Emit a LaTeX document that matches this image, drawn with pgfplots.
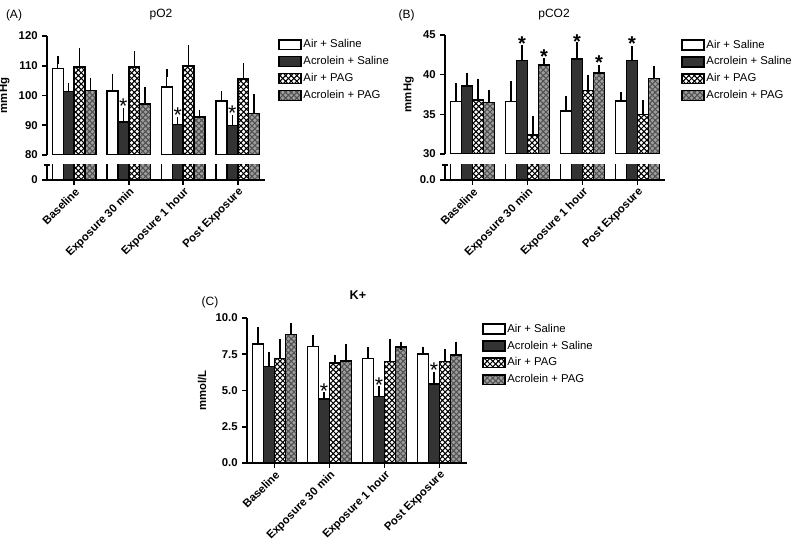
\documentclass[border=0pt]{standalone}
\usepackage{fontspec}
\setmainfont{Liberation Sans}
\usepackage{pgfplots}
\usepackage{pgfplotstable}
\pgfplotsset{compat=1.18}
\usetikzlibrary{patterns}

\pgfdeclarepatternformonly{xhatch}{\pgfqpoint{-1pt}{-1pt}}{\pgfqpoint{5.2pt}{5.2pt}}{\pgfqpoint{4.2pt}{4.2pt}}{%
  \pgfsetlinewidth{0.75pt}%
  \pgfpathmoveto{\pgfqpoint{-0.5pt}{-0.5pt}}\pgfpathlineto{\pgfqpoint{4.7pt}{4.7pt}}%
  \pgfpathmoveto{\pgfqpoint{-0.5pt}{4.7pt}}\pgfpathlineto{\pgfqpoint{4.7pt}{-0.5pt}}%
  \pgfusepath{stroke}}

\newcommand\tf{\fontsize{8.5}{10}\selectfont}

\pgfplotstableread{
g w we b be c ce p pe
0 109.0 2.9 101.4 1.6 109.5 5.0 101.6 3.0
1 101.5 4.5 91.1 3.4 109.6 4.0 97.1 4.3
2 102.8 4.6 90.2 1.2 110.0 5.7 92.7 1.2
3 98.1 2.1 89.9 2.3 105.6 4.0 94.0 5.0
}\Atbl
\pgfplotstableread{
g w we b be c ce p pe
0 36.6 1.8 38.6 1.1 36.8 2.2 36.5 1.0
1 36.6 2.1 41.8 1.4 32.4 1.9 41.2 0.4
2 35.4 1.4 42.0 1.6 38.0 1.4 40.2 0.5
3 36.7 0.6 41.8 1.3 35.0 1.3 39.5 1.1
}\Btbl
\pgfplotstableread{
g w we b be c ce p pe
0 8.20 0.90 6.65 0.75 7.20 1.10 8.85 0.50
1 8.05 0.50 4.40 0.20 6.90 0.30 7.05 0.85
2 7.20 0.50 4.60 0.40 7.00 1.30 8.00 0.10
3 7.50 0.25 5.45 0.55 7.00 0.60 7.45 0.65
}\Ctbl
\pgfplotstableread{
x y
0.9 97.9
1.9 94.9
2.9 95.7
}\Astar
\pgfplotstableread{
x y
0.9 44.4
1.3 42.8
1.9 44.7
2.3 42.0
2.9 44.5
}\Bstar
\pgfplotstableread{
x y
0.9 5.3
1.9 5.7
2.9 6.7
}\Cstar

\pgfplotsset{
  sW/.style={draw=black, line width=1.15pt, fill=white},
  sB/.style={draw=black, line width=1.15pt, fill=black!80},
  sC/.style={draw=black, line width=1.15pt, fill=white, postaction={pattern=xhatch, pattern color=black}},
  sP/.style={draw=black, line width=1.15pt, fill=black!38, postaction={pattern=xhatch, pattern color=black!68}},
  errb/.style={error bars/.cd, y dir=plus, y explicit, error mark=-,
    error bar style={line width=0.9pt, black},
    error mark options={line width=1pt, mark size=3pt, black}},
  base/.style={scale only axis, anchor=south west, xmin=-0.5, xmax=3.5,
    bar width=0.2,
    tick align=outside, major tick length=3.5pt,
    axis line style={line width=1.15pt},
    tick style={line width=1.15pt, black},
    ticklabel style={font=\bfseries\tf},
    label style={font=\bfseries\tf},
    /pgf/number format/assume math mode=true,
    legend image code/.code={\draw[##1] (0pt,-3.7pt) rectangle (16.5pt,3.7pt);},
    legend cell align=left,
    legend style={draw=none, fill=none, font=\tf, inner sep=0pt, row sep=2.6pt,
      nodes={inner sep=1.2pt}}},
  cats/.style={xtick={0,1,2,3},
    xticklabels={Baseline, Exposure 30 min, Exposure 1 hour, Post Exposure},
    xticklabel style={rotate=45, anchor=north east, inner sep=1pt}},
  stars/.style={draw=none, mark=none, forget plot, nodes near coords={*},
    every node near coord/.style={anchor=center, inner sep=0pt, yshift=-3.4pt, font=\fontsize{16}{16}\selectfont}},
  starsb/.style={draw=none, mark=none, forget plot, nodes near coords={*},
    every node near coord/.style={anchor=center, inner sep=0pt, yshift=-3.2pt, font=\bfseries\fontsize{15}{15}\selectfont}},
}

\newcommand\fourbars[1]{%
  \addplot[ybar, sW, errb] table[x expr=\thisrow{g}-0.3, y=w, y error=we]{#1};
  \addplot[ybar, sB, errb] table[x expr=\thisrow{g}-0.1, y=b, y error=be]{#1};
  \addplot[ybar, sC, errb] table[x expr=\thisrow{g}+0.1, y=c, y error=ce]{#1};
  \addplot[ybar, sP, errb] table[x expr=\thisrow{g}+0.3, y=p, y error=pe]{#1};
}

\begin{document}
\begin{tikzpicture}
\useasboundingbox (0,0) rectangle (600pt,409.5pt);

% ---------------- Panel A ----------------
\begin{axis}[base, name=Aup, at={(35.25pt,293.25pt)}, width=163.5pt, height=89.25pt,
  ymin=80, ymax=120, ytick={80,90,100,110,120},
  axis y line*=left, axis x line=none, xtick=\empty,
  ylabel={mmHg},
  legend style={at={(1.06,0.985)}, anchor=north west}]
\fourbars{\Atbl}
\addplot[stars] table[x=x,y=y]{\Astar};
\legend{Air + Saline, Acrolein + Saline, Air + PAG, Acrolein + PAG}
\end{axis}
\begin{axis}[base, cats, name=Alow, at={(35.25pt,274.5pt)}, width=163.5pt, height=11.25pt,
  ymin=0, ymax=10, ytick={0}, yticklabels={0},
  axis y line*=left, axis x line*=bottom]
\fourbars{\Atbl}
\end{axis}
\draw[line width=1.15pt] ([xshift=-2.5pt]Alow.north west) -- ([xshift=2.5pt]Alow.north west);

% ---------------- Panel B ----------------
\begin{axis}[base, name=Bup, at={(333.75pt,294pt)}, width=165pt, height=89.25pt,
  ymin=30, ymax=45, ytick={30,35,40,45},
  axis y line*=left, axis x line=none, xtick=\empty,
  ylabel={mmHg},
  legend style={at={(1.073,0.975)}, anchor=north west}]
\fourbars{\Btbl}
\addplot[starsb] table[x=x,y=y]{\Bstar};
\legend{Air + Saline, Acrolein + Saline, Air + PAG, Acrolein + PAG}
\end{axis}
\begin{axis}[base, cats, name=Blow, at={(333.75pt,274.5pt)}, width=165pt, height=11.25pt,
  ymin=0, ymax=10, ytick={0}, yticklabels={0.0},
  axis y line*=left, axis x line*=bottom]
\fourbars{\Btbl}
\end{axis}
\draw[line width=1.15pt] ([xshift=-2.5pt]Blow.north west) -- ([xshift=2.5pt]Blow.north west);

% ---------------- Panel C ----------------
\begin{axis}[base, cats, name=C, at={(185.25pt,62.25pt)}, width=165pt, height=108.75pt,
  ymin=0, ymax=10, ytick={0,2.5,5,7.5,10},
  yticklabel style={/pgf/number format/.cd, fixed, fixed zerofill, precision=1},
  axis y line*=left, axis x line*=bottom,
  ylabel={mmol/L},
  legend style={at={(1.068,0.972)}, anchor=north west}]
\fourbars{\Ctbl}
\addplot[stars] table[x=x,y=y]{\Cstar};
\legend{Air + Saline, Acrolein + Saline, Air + PAG, Acrolein + PAG}
\end{axis}

\node[font=\fontsize{9}{10}\selectfont] at (120.75pt,398.5pt) {pO2};
\node[font=\fontsize{9}{10}\selectfont] at (415.5pt,398.5pt) {pCO2};
\node[font=\bfseries\fontsize{9.5}{10}\selectfont] at (268.5pt,188.25pt) {K+};
\node[font=\fontsize{9}{10}\selectfont] at (10.5pt,398.25pt) {(A)};
\node[font=\fontsize{9}{10}\selectfont] at (305pt,398.25pt) {(B)};
\node[font=\fontsize{9}{10}\selectfont] at (157.5pt,183pt) {(C)};
\end{tikzpicture}
\end{document}
